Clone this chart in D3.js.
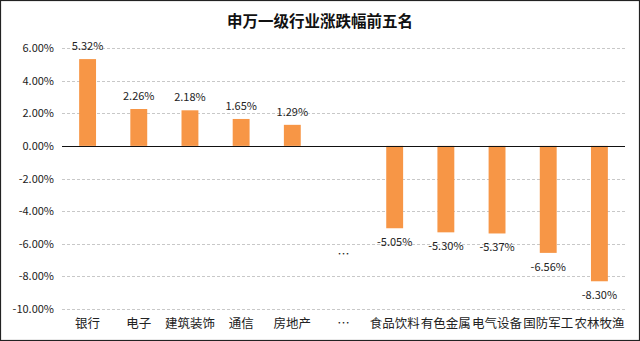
<!DOCTYPE html>
<html><head><meta charset="utf-8">
<script src="https://cdn.jsdelivr.net/npm/d3@7"></script>
<style>
html,body{margin:0;padding:0;background:#fff;}
svg{display:block;}
</style></head>
<body>
<svg id="chart" width="640" height="341"></svg>
<script>
const categories = ["银行","电子","建筑装饰","通信","房地产","…","食品饮料","有色金属","电气设备","国防军工","农林牧渔"];
const values = [5.32, 2.26, 2.18, 1.65, 1.29, null, -5.05, -5.30, -5.37, -6.56, -8.30];
const yTicks = [6, 4, 2, 0, -2, -4, -6, -8, -10];
const title = "申万一级行业涨跌幅前五名";
const gapNote = "…";
const gapNoteValue = -6.7;

const W = 640, H = 341;
const margin = {left: 62, right: 15, top: 48, bottom: 32};
const svg = d3.select("#chart");
const font = "'Noto Sans CJK SC', 'DejaVu Sans', sans-serif";

svg.append("rect").attr("x",0.5).attr("y",0.5).attr("width",W-1).attr("height",H-1)
  .attr("fill","#fff").attr("stroke","#222").attr("stroke-width",1.2);

const x = d3.scaleBand().domain(categories).range([margin.left, W - margin.right]).paddingInner(0.67).paddingOuter(0.335);
const y = d3.scaleLinear().domain([-10, 6]).range([H - margin.bottom, margin.top]);

// gridlines
svg.append("g").selectAll("line").data(yTicks.filter(t => t !== 0)).join("line")
  .attr("x1", margin.left).attr("x2", W - margin.right)
  .attr("y1", d => Math.round(y(d)) + 0.5).attr("y2", d => Math.round(y(d)) + 0.5)
  .attr("stroke","#c8c8c8").attr("stroke-dasharray","3,2").attr("stroke-width",1);

// y axis labels
const yAxis = d3.axisLeft(y).tickValues(yTicks).tickSize(0).tickPadding(8)
  .tickFormat(d => d.toFixed(2) + "%");
const yg = svg.append("g").attr("transform", `translate(${margin.left},0)`).call(yAxis);
yg.select(".domain").remove();
yg.selectAll("text").attr("font-family", font).attr("font-size", 11).attr("fill","#222");

// bars
svg.append("g").selectAll("rect").data(categories.map((c,i)=>({c, v: values[i]})).filter(d => d.v !== null)).join("rect")
  .attr("x", d => x(d.c)).attr("width", x.bandwidth())
  .attr("y", d => y(Math.max(0, d.v))).attr("height", d => Math.abs(y(d.v) - y(0)))
  .attr("fill", "#F79646");

// zero line
svg.append("line").attr("x1", margin.left).attr("x2", W - margin.right)
  .attr("y1", Math.round(y(0)) + 0.5).attr("y2", Math.round(y(0)) + 0.5)
  .attr("stroke","#111").attr("stroke-width",1.2);

// data labels
svg.append("g").selectAll("text").data(categories.map((c,i)=>({c, v: values[i]})).filter(d => d.v !== null)).join("text")
  .attr("x", d => x(d.c) + x.bandwidth()/2)
  .attr("y", d => d.v >= 0 ? y(d.v) - 9 : y(d.v) + 18)
  .attr("text-anchor","middle").attr("font-family", font).attr("font-size", 11).attr("fill","#222")
  .text(d => d.v.toFixed(2) + "%");

// gap note
svg.append("text").attr("x", x("…") + x.bandwidth()/2).attr("y", y(gapNoteValue) + 4)
  .attr("text-anchor","middle").attr("font-family", font).attr("font-size", 12).attr("fill","#222").text(gapNote);

// category labels
svg.append("g").selectAll("text").data(categories).join("text")
  .attr("x", d => x(d) + x.bandwidth()/2).attr("y", H - 13)
  .attr("text-anchor","middle").attr("font-family", font).attr("font-size", 12.5).attr("fill","#222")
  .text(d => d);

// title
svg.append("text").attr("x", W/2).attr("y", 27).attr("text-anchor","middle")
  .attr("font-family", font).attr("font-size", 15.5).attr("font-weight","bold").attr("fill","#111")
  .text(title);
</script>
</body></html>
